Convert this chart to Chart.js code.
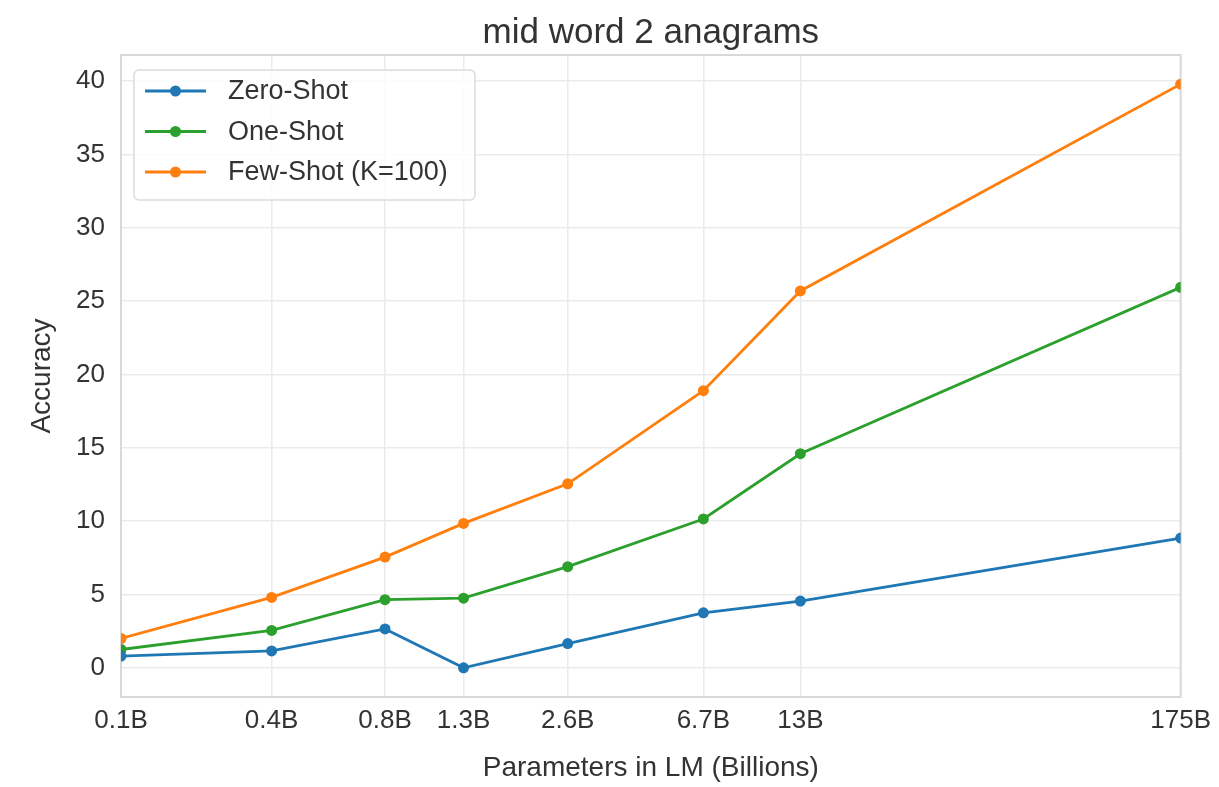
<!DOCTYPE html>
<html>
<head>
<meta charset="utf-8">
<title>mid word 2 anagrams</title>
<script src="https://cdn.jsdelivr.net/npm/chart.js@4/dist/chart.umd.min.js"></script>
<style>
  html, body { margin: 0; padding: 0; background: #fff; }
  #wrap { width: 1219px; height: 787px; }
</style>
</head>
<body>
<div id="wrap"><canvas id="c" width="1219" height="787"></canvas></div>
<script>
// Model sizes (billions of parameters) and their axis labels
const modelSizes = [0.125, 0.35, 0.76, 1.3, 2.65, 6.7, 13, 175];
const sizeLabels = ['0.1B', '0.4B', '0.8B', '1.3B', '2.6B', '6.7B', '13B', '175B'];

// Accuracy per setting
const zeroShot = [0.8, 1.15, 2.65, 0.0, 1.65, 3.75, 4.55, 8.85];
const oneShot  = [1.25, 2.55, 4.65, 4.75, 6.9, 10.15, 14.6, 25.95];
const fewShot  = [2.0, 4.8, 7.55, 9.85, 12.55, 18.9, 25.7, 39.8];

const accuracyTicks = [0, 5, 10, 15, 20, 25, 30, 35, 40];

const chartTitle = 'mid word 2 anagrams';

const TEXT = '#333333';
const GRID = '#ebebeb';
const FRAME = '#d9d9d9';
const FONT = '"Liberation Sans", Arial, Helvetica, sans-serif';

Chart.defaults.font.family = FONT;
Chart.defaults.color = TEXT;

function series(label, values, color) {
  return {
    label,
    data: modelSizes.map((x, i) => ({ x, y: values[i] })),
    borderColor: color,
    backgroundColor: color,
    pointBackgroundColor: color,
    pointBorderWidth: 0,
    pointRadius: 5.5,
    borderWidth: 2.8,
    tension: 0,
    clip: 0
  };
}

// Light frame around the plotting area
const plotFrame = {
  id: 'plotFrame',
  beforeDatasetsDraw(chart) {
    const { ctx, chartArea: a } = chart;
    ctx.save();
    ctx.strokeStyle = FRAME;
    ctx.lineWidth = 2;
    ctx.strokeRect(a.left, a.top, a.right - a.left, a.bottom - a.top);
    ctx.restore();
  }
};

// Title centred over the plotting area
const plotTitle = {
  id: 'plotTitle',
  afterDraw(chart, args, o) {
    const { ctx, chartArea: a } = chart;
    ctx.save();
    ctx.font = o.fontSize + 'px ' + FONT;
    ctx.fillStyle = TEXT;
    ctx.textAlign = 'center';
    ctx.textBaseline = 'alphabetic';
    ctx.fillText(o.text, (a.left + a.right) / 2, o.baseline);
    ctx.restore();
  }
};

// Legend boxed in the upper-left corner of the plot
const insetLegend = {
  id: 'insetLegend',
  afterDatasetsDraw(chart, args, o) {
    const ctx = chart.ctx;
    ctx.save();
    ctx.beginPath();
    ctx.roundRect(o.x, o.y, o.width, o.height, 5);
    ctx.fillStyle = 'rgba(255,255,255,0.85)';
    ctx.fill();
    ctx.lineWidth = 1.5;
    ctx.strokeStyle = '#dcdcdc';
    ctx.stroke();
    ctx.font = o.fontSize + 'px ' + FONT;
    ctx.textBaseline = 'middle';
    ctx.textAlign = 'left';
    chart.data.datasets.forEach((ds, i) => {
      const cy = o.y + o.firstRow + i * o.rowGap;
      const lx = o.x + o.padLeft;
      ctx.strokeStyle = ds.borderColor;
      ctx.lineWidth = ds.borderWidth;
      ctx.beginPath();
      ctx.moveTo(lx, cy);
      ctx.lineTo(lx + o.lineLen, cy);
      ctx.stroke();
      ctx.fillStyle = ds.borderColor;
      ctx.beginPath();
      ctx.arc(lx + o.lineLen / 2, cy, ds.pointRadius, 0, Math.PI * 2);
      ctx.fill();
      ctx.fillStyle = TEXT;
      ctx.fillText(ds.label, lx + o.lineLen + o.textGap, cy + 1);
    });
    ctx.restore();
  }
};

new Chart(document.getElementById('c'), {
  type: 'line',
  data: {
    datasets: [
      series('Zero-Shot', zeroShot, '#1f77b4'),
      series('One-Shot', oneShot, '#2ca02c'),
      series('Few-Shot (K=100)', fewShot, '#ff7f0e')
    ]
  },
  options: {
    responsive: false,
    animation: false,
    devicePixelRatio: 1,
    layout: { padding: { left: 0, right: 38, top: 55, bottom: 0 } },
    plugins: {
      legend: { display: false },
      tooltip: { enabled: false },
      title: { display: false },
      plotTitle: { text: chartTitle, fontSize: 35, baseline: 43 },
      insetLegend: {
        x: 134, y: 70, width: 341, height: 130,
        firstRow: 21, rowGap: 40.5,
        padLeft: 11, lineLen: 61, textGap: 22, fontSize: 27
      }
    },
    scales: {
      x: {
        type: 'logarithmic',
        min: modelSizes[0],
        max: modelSizes[modelSizes.length - 1],
        afterBuildTicks: s => { s.ticks = modelSizes.map(v => ({ value: v })); },
        ticks: {
          autoSkip: false,
          maxRotation: 0,
          padding: 8,
          font: { size: 26 },
          color: TEXT,
          callback: (v, i) => sizeLabels[i]
        },
        grid: { color: GRID, lineWidth: 1.5, drawTicks: false },
        border: { display: false },
        title: {
          display: true,
          text: 'Parameters in LM (Billions)',
          font: { size: 28 },
          color: TEXT,
          padding: { top: 4, bottom: 2 }
        },
        afterFit: s => { s.height = 90; }
      },
      y: {
        min: -1.99,
        max: 41.79,
        afterBuildTicks: s => { s.ticks = accuracyTicks.map(v => ({ value: v })); },
        ticks: { padding: 16, font: { size: 26 }, color: TEXT },
        grid: { color: GRID, lineWidth: 1.5, drawTicks: false },
        border: { display: false },
        title: {
          display: true,
          text: 'Accuracy',
          font: { size: 28 },
          color: TEXT,
          padding: { top: 25, bottom: 0 }
        },
        afterFit: s => { s.width = 121; }
      }
    }
  },
  plugins: [plotFrame, insetLegend, plotTitle]
});
</script>
</body>
</html>
